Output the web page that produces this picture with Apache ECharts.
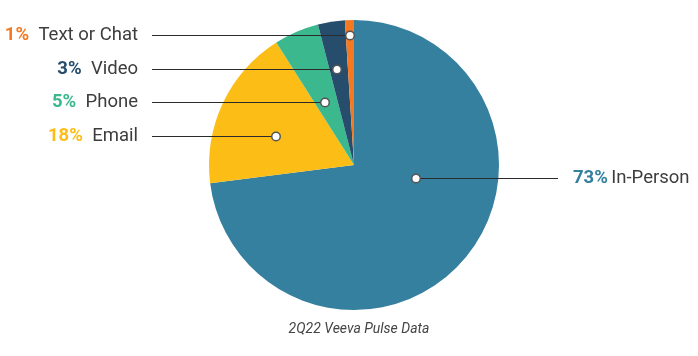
<!DOCTYPE html>
<html>
<head>
<meta charset="utf-8">
<script src="https://cdn.jsdelivr.net/npm/echarts@6/dist/echarts.min.js"></script>
<style>html,body{margin:0;padding:0;background:#fff;}#c{width:698px;height:356px;}</style>
</head>
<body>
<div id="c"></div>
<script>
const categories = ['In-Person', 'Email', 'Phone', 'Video', 'Text or Chat'];
const values = [73, 18, 5, 3, 1];
const colors = ['#357f9f', '#fbbd16', '#3cb88e', '#264d6c', '#f47920'];
const caption = '2Q22 Veeva Pulse Data';

// label anchor offsets from the pie center (layout only)
const CX = 354, CY = 165, R = 145;
const labelDy = [13, -29, -63, -96, -130];
const dotDx = [62, -78, -29, -17, -4];

const chart = echarts.init(document.getElementById('c'));
const data = categories.map((n, i) => ({ name: n, value: values[i], itemStyle: { color: colors[i] } }));
const ghost = categories.map((n, i) => ({ name: n, value: values[i] }));

function dotPos(i) {
  return [CX + dotDx[i], CY + labelDy[i] + 0.5];
}

const rich = {
  n: { fontFamily: 'Roboto', fontSize: 18.5, color: '#3d3d3d' }
};
colors.forEach((c, i) => {
  rich['p' + i] = { fontFamily: 'Roboto', fontSize: 18.5, fontWeight: 'bold', color: c, padding: i === 0 ? [0, 0, 0, 0] : [0, 6, 0, 0] };
});

const base = { type: 'pie', center: [CX, CY], radius: R, startAngle: 90, clockwise: true, silent: true, animation: false };

chart.setOption({
  animation: false,
  title: {
    text: caption, left: 354, top: 317, textAlign: 'center',
    textStyle: { fontFamily: 'Roboto', fontSize: 14, fontStyle: 'italic', fontWeight: 'normal', color: '#444' }
  },
  series: [
    Object.assign({}, base, {
      data: data, z: 1,
      label: { show: false }, labelLine: { show: false }
    }),
    Object.assign({}, base, {
      data: ghost, z: 5,
      itemStyle: { color: 'rgba(0,0,0,0)' },
      label: {
        show: true,
        formatter: p => '{p' + p.dataIndex + '|' + p.value + '%} {n|' + p.name + '}',
        rich: rich
      },
      labelLine: { show: true, lineStyle: { color: '#2b2b2b', width: 1 } },
      labelLayout: function (params) {
        const i = params.dataIndex;
        const d = dotPos(i);
        if (i === 0) {
          return { x: 573, y: d[1], align: 'left', verticalAlign: 'middle', labelLinePoints: [d, [558, d[1]], [558, d[1]]] };
        }
        return { x: 138, y: d[1], align: 'right', verticalAlign: 'middle', labelLinePoints: [d, [152, d[1]], [152, d[1]]] };
      }
    }),
    Object.assign({}, base, {
      data: ghost, z: 10,
      itemStyle: { color: 'rgba(0,0,0,0)' },
      label: {
        show: true, formatter: '{d|}',
        rich: { d: { width: 7, height: 7, borderRadius: 4, backgroundColor: '#fff', borderColor: '#555', borderWidth: 1.5 } }
      },
      labelLine: { show: false },
      labelLayout: function (params) {
        const d = dotPos(params.dataIndex);
        return { x: d[0], y: d[1], align: 'center', verticalAlign: 'middle' };
      }
    })
  ]
});
</script>
</body>
</html>
